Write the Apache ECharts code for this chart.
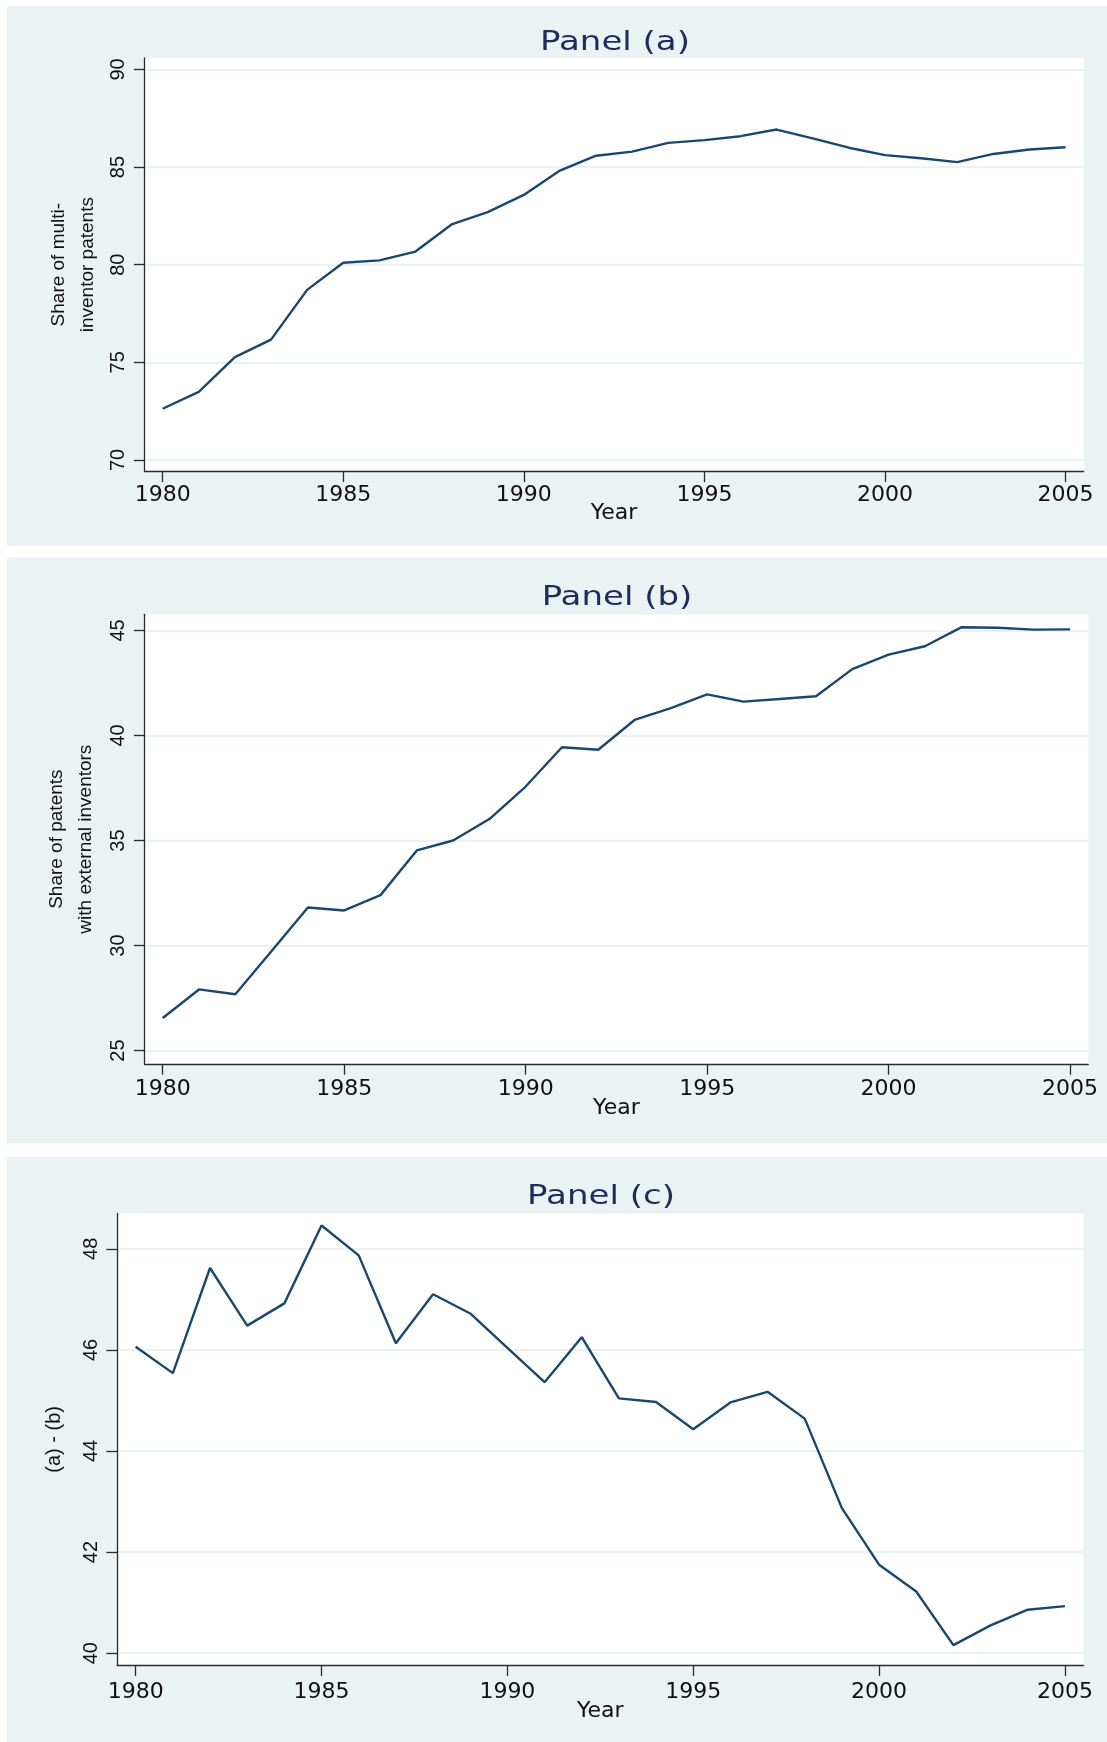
<!DOCTYPE html>
<html>
<head>
<meta charset="utf-8">
<title>Panels (a) - (c)</title>
<script src="https://cdn.jsdelivr.net/npm/echarts@6.0.0/dist/echarts.min.js"></script>
<style>
  html, body { margin: 0; padding: 0; background: #fff; }
  #chart { width: 1107px; height: 1742px; }
</style>
</head>
<body>
<div id="chart"></div>
<script>
// values
const years = [1980, 1981, 1982, 1983, 1984, 1985, 1986, 1987, 1988, 1989, 1990, 1991, 1992,
  1993, 1994, 1995, 1996, 1997, 1998, 1999, 2000, 2001, 2002, 2003, 2004, 2005]
const shareMulti = [72.62, 73.48, 75.26, 76.16, 78.71, 80.10, 80.22, 80.67, 82.06, 82.69, 83.57, 84.82, 85.58,
  85.79, 86.24, 86.38, 86.58, 86.92, 86.47, 85.99, 85.61, 85.45, 85.25, 85.67, 85.90, 86.01]
const shareExternal = [26.55, 27.91, 27.68, 29.74, 31.81, 31.67, 32.40, 34.53, 35.00, 36.02, 37.57, 39.44, 39.32,
  40.74, 41.30, 41.96, 41.61, 41.74, 41.87, 43.16, 43.85, 44.25, 45.15, 45.13, 45.04, 45.05]
const difference = [46.06, 45.54, 47.62, 46.48, 46.92, 48.46, 47.87, 46.13, 47.10, 46.72, 46.04, 45.36, 46.25,
  45.04, 44.97, 44.43, 44.96, 45.17, 44.64, 42.87, 41.75, 41.22, 40.16, 40.55, 40.86, 40.93]

const xTicks = [1980, 1985, 1990, 1995, 2000, 2005]
const yTicksA = [70, 75, 80, 85, 90]
const yTicksB = [25, 30, 35, 40, 45]
const yTicksC = [40, 42, 44, 46, 48]

const navy = '#1a476f'
const panelBg = '#eaf2f3'
const axisColor = '#2b2b2b'
const wideFont = '"DejaVu Sans", Verdana, sans-serif'
const plainFont = '"Liberation Sans", Arial, sans-serif'

// layout of the three stacked panels (pixels)
const panels = [
  { title: 'Panel (a)', yName: 'Share of multi-\ninventor patents', values: shareMulti, yTicks: yTicksA,
    min: 69.41, max: 90.59, grid: { left: 144.6, top: 57.9, right: 23.4, height: 413.5 },
    box: [6, 539.7], titleAt: [615, 42.5], nameGap: 43, xMargin: 13, yearGap: 31 },
  { title: 'Panel (b)', yName: 'Share of patents\nwith external inventors', values: shareExternal, yTicks: yTicksB,
    min: 24.36, max: 45.77, grid: { left: 144.6, top: 614.3, right: 18.8, height: 449.7 },
    box: [557.7, 585.6], titleAt: [617, 598], nameGap: 44.6, xMargin: 14, yearGap: 33 },
  { title: 'Panel (c)', yName: '(a) - (b)', values: difference, yTicks: yTicksC,
    min: 39.76, max: 48.70, grid: { left: 117.1, top: 1213.4, right: 23.5, height: 451.9 },
    box: [1156.7, 585.3], titleAt: [601, 1196.5], nameGap: 48, xMargin: 15.5, yearGap: 34.5 }
]

function getOptions() {
  const option = {
    backgroundColor: '#fff',
    animation: false,
    graphic: [],
    grid: [],
    xAxis: [],
    yAxis: [],
    series: []
  }
  panels.forEach(function(p, i) {
    option.graphic.push({
      type: 'rect', z: -10, silent: true,
      shape: { x: 7, y: p.box[0], width: 1100, height: p.box[1] },
      style: { fill: panelBg }
    })
    // Stata text looks horizontally stretched, so widen the titles a little
    option.graphic.push({
      type: 'text', z: 10, silent: true,
      x: p.titleAt[0], y: p.titleAt[1], scaleX: 1.26,
      style: { text: p.title, fill: '#1e2c5c', font: '27px ' + wideFont, textAlign: 'center', textVerticalAlign: 'middle' }
    })
    option.grid.push(Object.assign({ show: true, backgroundColor: '#fff', borderWidth: 0 }, p.grid))
    option.xAxis.push({
      type: 'value',
      gridIndex: i,
      min: 1979.5,
      max: 2005.5,
      name: 'Year',
      nameLocation: 'middle',
      nameGap: p.yearGap,
      nameMoveOverlap: false,
      nameTextStyle: { fontFamily: wideFont, fontSize: 22, color: '#111' },
      axisLine: { show: true, onZero: false, lineStyle: { color: axisColor, width: 1.3 } },
      axisTick: { show: true, length: 10.7, customValues: xTicks, lineStyle: { color: axisColor, width: 1.3 } },
      axisLabel: {
        customValues: xTicks, margin: p.xMargin,
        fontFamily: wideFont, fontSize: 22, color: '#111',
        formatter: function(v) { return String(v) }
      },
      splitLine: { show: false }
    })
    option.yAxis.push({
      type: 'value',
      gridIndex: i,
      min: p.min,
      max: p.max,
      name: p.yName,
      nameLocation: 'middle',
      nameRotate: 90,
      nameGap: p.nameGap,
      nameMoveOverlap: false,
      nameTextStyle: { fontFamily: plainFont, fontSize: i === 2 ? 20 : 19, lineHeight: 28.5, color: '#111' },
      axisLine: { show: true, onZero: false, lineStyle: { color: axisColor, width: 1.3 } },
      axisTick: { show: true, length: 10.7, customValues: p.yTicks, lineStyle: { color: axisColor, width: 1.3 } },
      axisLabel: {
        customValues: p.yTicks, rotate: 90, margin: 16,
        fontFamily: plainFont, fontSize: 20, color: '#111'
      },
      splitLine: { show: true, lineStyle: { color: panelBg, width: 2 } }
    })
    option.series.push({
      type: 'line',
      xAxisIndex: i,
      yAxisIndex: i,
      showSymbol: false,
      lineStyle: { color: navy, width: 2.4 },
      data: years.map(function(y, k) { return [y, p.values[k]] })
    })
  })
  return option
}

const chart = echarts.init(document.getElementById('chart'), null, { renderer: 'canvas' })
chart.setOption(getOptions())
</script>
</body>
</html>
